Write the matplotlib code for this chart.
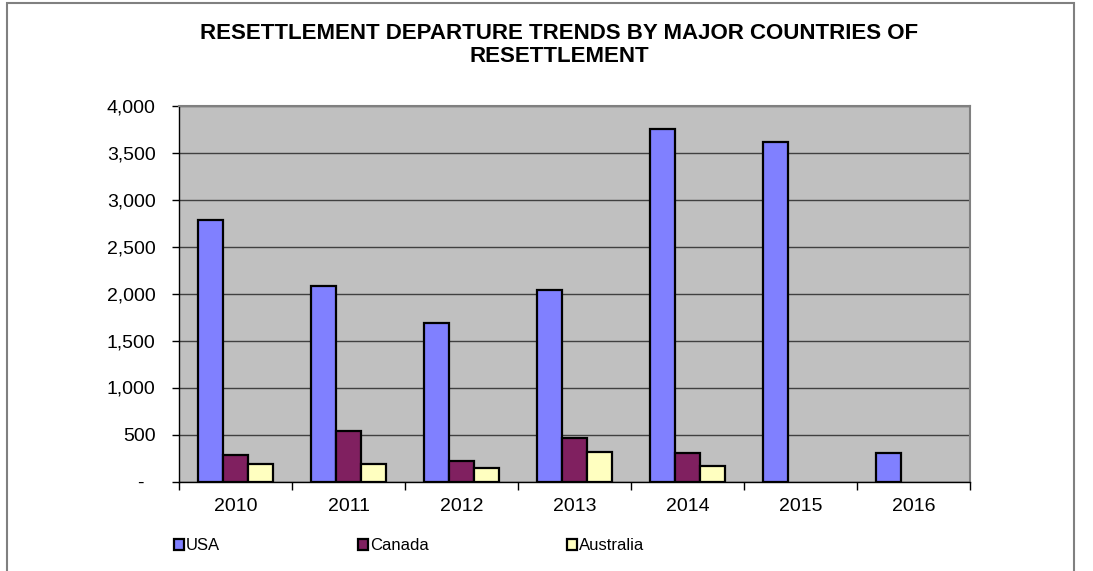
import matplotlib.pyplot as plt
import numpy as np
from matplotlib.patches import Rectangle
from matplotlib.ticker import FixedLocator, FuncFormatter

plt.rcParams['font.family'] = ['Liberation Sans', 'DejaVu Sans']

years = ['2010', '2011', '2012', '2013', '2014', '2015', '2016']
usa = [2780, 2080, 1690, 2040, 3750, 3610, 305]
canada = [280, 537, 215, 463, 303, 0, 0]
australia = [183, 183, 140, 311, 162, 0, 0]

series = ['USA', 'Canada', 'Australia']
colors = ['#8080FF', '#802060', '#FFFFC0']

W, H = 1093, 571
fig = plt.figure(figsize=(W / 100, H / 100), dpi=100)
ax = fig.add_axes([179.3 / W, 1 - 481.5 / H, (970 - 179.3) / W, (481.5 - 105.5) / H])
ax.set_facecolor('#C0C0C0')

# outer chart frame (bottom edge runs off the image)
fig.add_artist(Rectangle((7 / W, -0.2), (1074 - 7) / W, 1.2 - 3 / H, transform=fig.transFigure,
                         fill=False, edgecolor='#808080', linewidth=1.5, clip_on=False))

x = np.arange(len(years))
bw = 1 / 4.5
handles = []
for k, (name, vals, col) in enumerate(zip(series, [usa, canada, australia], colors)):
    v = np.array(vals, dtype=float)
    keep = v > 0
    b = ax.bar(x[keep] + (k - 1) * bw, v[keep], width=bw, color=col, edgecolor='black',
               linewidth=1.6, zorder=3, label=name)
    handles.append(b)

ax.set_xlim(-0.5, len(years) - 0.5)
ax.set_ylim(0, 4000)

ax.yaxis.set_major_locator(FixedLocator(np.arange(0, 4001, 500)))
ax.yaxis.set_major_formatter(FuncFormatter(lambda v, p: '-  ' if v == 0 else f'{int(v):,}'))
ax.grid(axis='y', color='#404040', linewidth=1, zorder=1)
ax.tick_params(axis='y', direction='out', length=5, width=1, pad=12, labelsize=14, color='black')

ax.set_xticks(np.arange(-0.5, len(years), 1))
ax.set_xticklabels([])
ax.set_xticks(x, minor=True)
ax.set_xticklabels(years, minor=True)
ax.tick_params(axis='x', which='major', direction='out', length=6, width=1, color='black')
ax.tick_params(axis='x', which='minor', length=0, pad=12, labelsize=14)

for s in ['top', 'right']:
    ax.spines[s].set_color('#808080')
    ax.spines[s].set_linewidth(1.5)
for s in ['left', 'bottom']:
    ax.spines[s].set_color('black')
    ax.spines[s].set_linewidth(1)

fig.text(559.5 / W, 1 - 45 / H, 'RESETTLEMENT DEPARTURE TRENDS BY MAJOR COUNTRIES OF\nRESETTLEMENT',
         ha='center', va='center', fontsize=16, fontweight='bold', linespacing=1.15)

fig.legend(handles=handles, loc='center left', bbox_to_anchor=(174 / W, 1 - 546 / H), ncol=3,
           frameon=False, fontsize=12, handlelength=0.6, handleheight=0.6, handletextpad=0.1,
           columnspacing=8.3, borderaxespad=0, borderpad=0)

fig.savefig('out.png', dpi=100)
